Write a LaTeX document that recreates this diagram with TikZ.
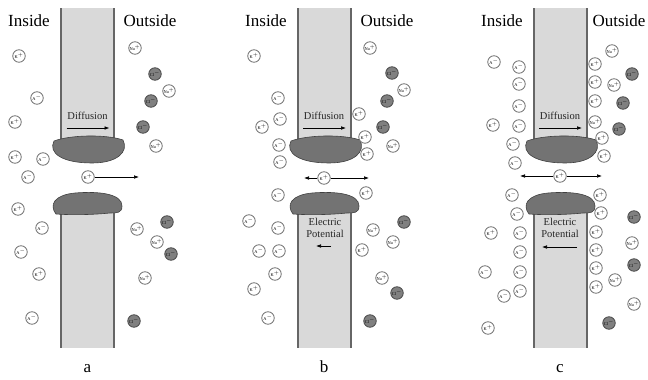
\documentclass[tikz,border=0pt]{standalone}
\usepackage{fontspec}
\setmainfont{Liberation Serif}
\usetikzlibrary{arrows.meta, positioning}
\tikzset{
    ion/.style={
        circle,
        draw=black!55,
        fill=white,
        line width=0.8pt,
        minimum size=12.5pt,
        inner sep=0pt,
        font=\fontsize{4.4}{5}\selectfont
    },
    chloride/.style={
        ion,
        fill=black!50,
        draw=black!70
    },
    wall/.style={
        fill=black!15
    },
    walledge/.style={
        draw=black!60,
        line width=1.2pt
    },
    gate/.style={
        fill=black!55,
        draw=black!75,
        line width=0.6pt
    },
    flow/.style={
        draw=black,
        line width=0.6pt,
        -{Latex[length=5pt,width=3.6pt]}
    },
    side/.style={
        anchor=base,
        font=\fontsize{17}{17}\selectfont
    },
    tag/.style={
        anchor=base,
        text=black!85,
        font=\fontsize{10.5}{11.5}\selectfont
    }
}
\newcommand{\Kion}{K$^+$}
\newcommand{\Naion}{Na$^+$}
\newcommand{\Aion}{A$^-$}
\newcommand{\Clion}{Cl$^-$}

\begin{document}
\begin{tikzpicture}[x=1pt, y=-1pt]
\useasboundingbox (0,0) rectangle (648,380);

% membrane walls and channel gates, one per panel
\foreach \shift in {0,237,473} {
  \begin{scope}[xshift=\shift pt]
    \fill[wall] (61,8) rectangle (114,142);
    \draw[walledge] (61,8) -- (61,142) (114,8) -- (114,142);
    \fill[wall] (61,212) rectangle (114,348);
    \draw[walledge] (61,212) -- (61,348) (114,212) -- (114,348);
    % upper gate
    \draw[gate] (54,141) .. controls (70,135) and (105,134) .. (123,140)
        .. controls (129,152) and (117,163) .. (92,163)
        .. controls (62,163) and (48,153) .. (54,141);
    % lower gate
    \draw[gate] (56,214) .. controls (49,205) and (54,195) .. (75,193)
        .. controls (100,191) and (122,194) .. (122,206)
        .. controls (122,213) and (117,213) .. (110,213)
        .. controls (90,215) and (70,215) .. (56,214);
  \end{scope}
}

% side titles
\node[side] (in-a) at (29,26) {Inside};
\node[side] (out-a) at (150,26) {Outside};
\node[side] (in-b) at (266,26) {Inside};
\node[side] (out-b) at (387,26) {Outside};
\node[side] (in-c) at (502,26) {Inside};
\node[side] (out-c) at (619,26) {Outside};

% diffusion labels
\foreach \p/\cx in {a/87.5, b/324, c/560} {
  \node[tag] (diff-\p) at (\cx,119) {Diffusion};
  \coordinate (diff-\p-s) at (\cx-21,128);
  \coordinate (diff-\p-e) at (\cx+22,128);
  \draw[flow] (diff-\p-s) -- (diff-\p-e);
}

% electric potential labels
\node[tag, align=center] (pot-b) at (325,237) {Electric\\Potential};
\coordinate (pot-b-s) at (331,246);
\coordinate (pot-b-e) at (316,246);
\draw[flow] (pot-b-s) -- (pot-b-e);
\node[tag, align=center] (pot-c) at (560,237) {Electric\\Potential};
\coordinate (pot-c-s) at (577,247);
\coordinate (pot-c-e) at (542,247);
\draw[flow] (pot-c-s) -- (pot-c-e);

% ions moving through the channel
\node[ion] (chan-a) at (88,177) {\Kion};
\coordinate (chan-a-r) at (139,177);
\draw[flow] (chan-a) -- (chan-a-r);

\node[ion] (chan-b) at (324,178) {\Kion};
\coordinate (chan-b-l) at (304,178);
\coordinate (chan-b-r) at (369,178);
\draw[flow] (chan-b) -- (chan-b-l);
\draw[flow] (chan-b) -- (chan-b-r);

\node[ion] (chan-c) at (560,176) {\Kion};
\coordinate (chan-c-l) at (520,176);
\coordinate (chan-c-r) at (602,176);
\draw[flow] (chan-c) -- (chan-c-l);
\draw[flow] (chan-c) -- (chan-c-r);

% panel a ions
\foreach \x/\y/\t in {19/56/\Kion, 37/98/\Aion, 15/122/\Kion, 15/157/\Kion,
    43/159/\Aion, 28/177/\Aion, 18/209/\Kion, 42/228/\Aion, 21/252/\Aion,
    39/274/\Kion, 32/318/\Aion,
    135/48/\Naion, 169/91/\Naion, 156/146/\Naion, 137/229/\Naion,
    157/242/\Naion, 145/278/\Naion}
  \node[ion] (ion-\x-\y) at (\x,\y) {\t};
\foreach \x/\y in {155/74, 151/101, 143/127, 167/222, 171/254, 134/321}
  \node[chloride] (ion-\x-\y) at (\x,\y) {\Clion};

% panel b ions
\foreach \x/\y/\t in {254/56/\Kion, 278/98/\Aion, 280/119/\Aion, 262/127/\Kion,
    279/145/\Aion, 280/162/\Aion, 278/195/\Aion, 249/221/\Aion, 278/228/\Aion,
    259/251/\Aion, 279/251/\Aion, 275/274/\Kion, 254/289/\Kion, 268/318/\Aion,
    370/48/\Naion, 404/90/\Naion, 359/114/\Kion, 365/137/\Kion, 367/154/\Kion,
    393/146/\Naion, 366/193/\Kion, 373/230/\Naion, 393/242/\Naion,
    362/250/\Kion, 382/278/\Naion}
  \node[ion] (ion-\x-\y) at (\x,\y) {\t};
\foreach \x/\y in {392/73, 387/101, 383/127, 404/222, 397/293, 370/321}
  \node[chloride] (ion-\x-\y) at (\x,\y) {\Clion};

% panel c ions
\foreach \x/\y/\t in {494/62/\Aion, 519/67/\Aion, 519/84/\Aion, 519/106/\Aion,
    519/126/\Aion, 493/125/\Kion, 513/144/\Aion, 515/163/\Aion, 512/195/\Aion,
    517/214/\Aion, 491/233/\Kion, 520/233/\Aion, 520/252/\Aion, 485/272/\Aion,
    520/272/\Aion, 504/296/\Aion, 520/291/\Aion, 488/328/\Kion,
    612/51/\Naion, 595/64/\Kion, 595/82/\Kion, 614/85/\Naion, 595/101/\Kion,
    595/122/\Naion, 602/138/\Kion, 604/156/\Kion, 600/195/\Kion,
    601/213/\Kion, 596/232/\Kion, 632/243/\Naion, 596/250/\Kion,
    596/268/\Kion, 615/280/\Naion, 596/287/\Kion, 634/304/\Naion}
  \node[ion] (ion-\x-\y) at (\x,\y) {\t};
\foreach \x/\y in {632/74, 623/103, 619/129, 634/217, 634/265, 609/323}
  \node[chloride] (ion-\x-\y) at (\x,\y) {\Clion};

% panel letters
\node[side] (lbl-a) at (87.5,372) {a};
\node[side] (lbl-b) at (324,372) {b};
\node[side] (lbl-c) at (560,372) {c};

\end{tikzpicture}
\end{document}
